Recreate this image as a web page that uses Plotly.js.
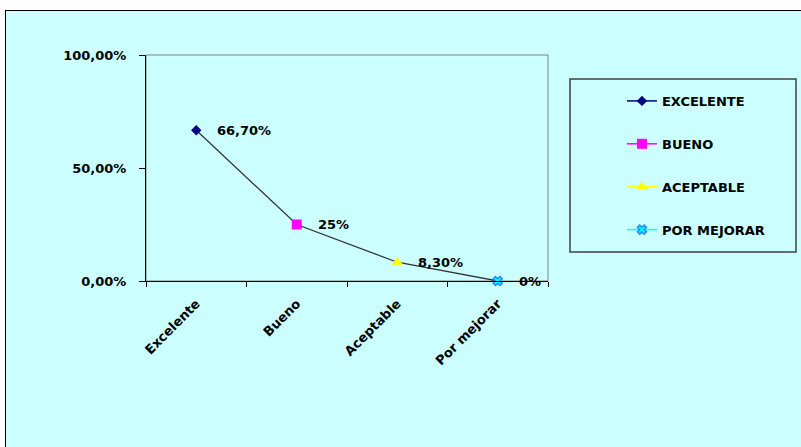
<!DOCTYPE html>
<html>
<head>
<meta charset="utf-8">
<script src="https://cdn.plot.ly/plotly-3.0.1.min.js"></script>
<style>
  html, body { margin: 0; padding: 0; background: #ffffff; overflow: hidden; }
  #frame { position: absolute; left: 5px; top: 10px; width: 796px; height: 437px;
           border-left: 1px solid #000; border-top: 1px solid #000; background: #CCFFFF; }
  #chart { width: 795px; height: 436px; }
</style>
</head>
<body>
<div id="frame"><div id="chart"></div></div>
<script>
// ---- data ----
var categories = ["Excelente", "Bueno", "Aceptable", "Por mejorar"];
var values = [0.667, 0.25, 0.083, 0];
var dataLabels = ["66,70%", "25%", "8,30%", "0%"];
var seriesNames = ["EXCELENTE", "BUENO", "ACEPTABLE", "POR MEJORAR"];
var yTickValues = [0, 0.5, 1];

// ---- styles ----
var markerColors = ["#000080", "#FF00FF", "#FFFF00", "#00FFFF"];
var markerSymbols = ["diamond", "square", "triangle-up", "x"];
var markerSizes = [8, 10, 10, 8];
var bold = { family: "DejaVu Sans, sans-serif", size: 13, color: "#000", weight: "bold" };

var traces = [{
  x: categories, y: values, type: "scatter", mode: "lines",
  line: { color: "#333333", width: 1.3 }, showlegend: false, hoverinfo: "skip",
  cliponaxis: false
}];
categories.forEach(function (c, i) {
  traces.push({
    x: [c], y: [values[i]], type: "scatter", mode: "lines+markers",
    name: seriesNames[i], legendgroup: "g" + i,
    line: { color: markerColors[i], width: 1.5 },
    marker: { color: markerColors[i], symbol: markerSymbols[i], size: markerSizes[i],
              line: { color: i === 3 ? "#1E90FF" : markerColors[i], width: i === 3 ? 1.5 : 0 } },
    cliponaxis: false
  });
});

var annotations = categories.map(function (c, i) {
  return { x: c, y: values[i], xref: "x", yref: "y", text: dataLabels[i],
           showarrow: false, xanchor: "left", yanchor: "middle", xshift: 19, font: bold };
});

var layout = {
  width: 795, height: 436,
  margin: { l: 140, r: 253, t: 44, b: 166 },
  paper_bgcolor: "#CCFFFF", plot_bgcolor: "#CCFFFF",
  separators: ",.",
  showlegend: true,
  legend: { x: 1.184, y: 0.863, xanchor: "left", yanchor: "top",
            bgcolor: "rgba(0,0,0,0)", borderwidth: 0, tracegroupgap: 23,
            font: bold },
  xaxis: { type: "category", range: [-0.5, 3.5], tickson: "boundaries",
           ticks: "outside", ticklen: 5, tickcolor: "#000", tickangle: -45,
           ticklabelstandoff: 9,
           showline: true, linecolor: "#000", linewidth: 1, showgrid: false,
           zeroline: false, tickfont: bold, fixedrange: true },
  yaxis: { range: [0, 1], tickvals: yTickValues, tickformat: ".2%",
           ticks: "outside", ticklen: 6, tickcolor: "#000", ticklabelstandoff: 10,
           showline: true, linecolor: "#000", linewidth: 1, showgrid: false,
           zeroline: false, tickfont: bold, fixedrange: true },
  shapes: [
    { type: "rect", xref: "paper", yref: "paper", x0: 0, x1: 1, y0: 0, y1: 1,
      line: { color: "#808080", width: 1 }, layer: "below" },
    { type: "rect", xref: "paper", yref: "paper", x0: 1.0547, x1: 1.6169, y0: 0.1283, y1: 0.8938,
      line: { color: "#404040", width: 1.5 } }
  ],
  annotations: annotations
};

Plotly.newPlot("chart", traces, layout, { displayModeBar: false, staticPlot: true });
</script>
</body>
</html>
